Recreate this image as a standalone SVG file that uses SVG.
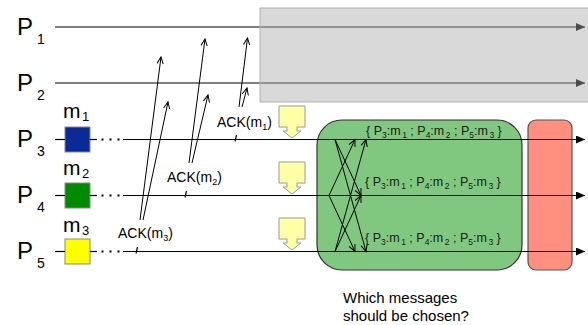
<svg xmlns="http://www.w3.org/2000/svg" width="588" height="325" viewBox="0 0 588 325">
<defs>
<style>
text{font-family:"Liberation Sans",Arial,sans-serif;fill:#000}
.pl{font-size:24px}
.ps{font-size:14px}
.ml{font-size:21px}
.msub{font-size:13px}
.ack{font-size:14px}
.asub{font-size:9px}
.set{font-size:12.5px;fill:#1a1a1a}
.ssub{font-size:8.5px}
.q{font-size:15px}
.pline{stroke:#000;stroke-width:1.2;fill:none}
.arr{stroke:#000;stroke-width:1;fill:none;marker-end:url(#oa)}
.tick{stroke:#000;stroke-width:1.2}
.yel{fill:#ffffa6;stroke:#999;stroke-width:1}
.sq{stroke:#888;stroke-width:1}
</style>
<marker id="fa" markerWidth="10" markerHeight="8" refX="9" refY="4" orient="auto" markerUnits="userSpaceOnUse"><path d="M0,0 L9,4 L0,8 Z" fill="#000"/></marker>
<marker id="oa" markerWidth="10" markerHeight="10" refX="7" refY="5" orient="auto" markerUnits="userSpaceOnUse"><path d="M0,1.8 L7,5 L0,8.2" fill="none" stroke="#000" stroke-width="1"/></marker>
</defs>
<rect width="588" height="325" fill="#fff"/>

<g id="green-box"><rect x="317" y="120" width="205" height="150" rx="25" fill="#80c880" stroke="#333" stroke-width="1.2"/></g>
<g id="red-box"><rect x="528" y="120" width="44" height="150" rx="8" fill="#ff9080" stroke="#555" stroke-width="1.2"/></g>

<g id="labels">
<text class="pl" x="17" y="34.5">P<tspan class="ps" dx="4" dy="9">1</tspan></text>
<text class="pl" x="17" y="90.5">P<tspan class="ps" dx="4" dy="9">2</tspan></text>
<text class="pl" x="17" y="146.5">P<tspan class="ps" dx="4" dy="9">3</tspan></text>
<text class="pl" x="17" y="202.5">P<tspan class="ps" dx="4" dy="9">4</tspan></text>
<text class="pl" x="17" y="258.5">P<tspan class="ps" dx="4" dy="9">5</tspan></text>
</g>

<g id="msg-m1">
<text class="ml" x="63" y="118">m<tspan class="msub" dx="1.5" dy="3">1</tspan></text>
<rect class="sq" x="65" y="127" width="25" height="25" fill="#0a2a96"/>
</g>
<g id="msg-m2">
<text class="ml" x="63" y="175">m<tspan class="msub" dx="1.5" dy="3">2</tspan></text>
<rect class="sq" x="65" y="183" width="25" height="25" fill="#008a00"/>
</g>
<g id="msg-m3">
<text class="ml" x="63" y="232">m<tspan class="msub" dx="1.5" dy="3">3</tspan></text>
<rect class="sq" x="65" y="239" width="25" height="25" fill="#ffff00"/>
</g>

<g id="deliver-markers">
<path class="yel" d="M279,106 H305 V127 H297 V131 H301 L292,138 L283,131 H287 V127 H279 Z"/>
<path class="yel" d="M279,162 H305 V183 H297 V187 H301 L292,194 L283,187 H287 V183 H279 Z"/>
<path class="yel" d="M279,218 H305 V239 H297 V243 H301 L292,250 L283,243 H287 V239 H279 Z"/>
</g>

<g id="connectors">
<line class="pline" x1="55" y1="27" x2="585" y2="27" marker-end="url(#fa)"/>
<line class="pline" x1="55" y1="83" x2="585" y2="83" marker-end="url(#fa)"/>
<line class="pline" x1="55" y1="139.5" x2="65" y2="139.5"/>
<line class="pline" x1="90" y1="139.5" x2="97" y2="139.5"/>
<line class="pline" x1="123" y1="139.5" x2="585" y2="139.5" marker-end="url(#fa)"/>
<line class="pline" x1="55" y1="195.5" x2="65" y2="195.5"/>
<line class="pline" x1="90" y1="195.5" x2="97" y2="195.5"/>
<line class="pline" x1="123" y1="195.5" x2="585" y2="195.5" marker-end="url(#fa)"/>
<line class="pline" x1="55" y1="251.5" x2="65" y2="251.5"/>
<line class="pline" x1="90" y1="251.5" x2="97" y2="251.5"/>
<line class="pline" x1="123" y1="251.5" x2="585" y2="251.5" marker-end="url(#fa)"/>
<g fill="#000">
<rect x="101.5" y="138.5" width="2" height="2"/><rect x="109.5" y="138.5" width="2" height="2"/><rect x="117.5" y="138.5" width="2" height="2"/>
<rect x="101.5" y="194.5" width="2" height="2"/><rect x="109.5" y="194.5" width="2" height="2"/><rect x="117.5" y="194.5" width="2" height="2"/>
<rect x="101.5" y="250.5" width="2" height="2"/><rect x="109.5" y="250.5" width="2" height="2"/><rect x="117.5" y="250.5" width="2" height="2"/>
</g>
<line class="tick" x1="235" y1="141.5" x2="236.5" y2="135"/>
<line class="tick" x1="185" y1="197.5" x2="186.5" y2="191"/>
<line class="tick" x1="136" y1="253.5" x2="137.5" y2="247"/>
<line class="arr" x1="239" y1="107" x2="247.5" y2="38"/>
<line class="arr" x1="242" y1="107" x2="247" y2="88"/>
<line class="arr" x1="189" y1="163" x2="205" y2="39"/>
<line class="arr" x1="192" y1="163" x2="208" y2="95"/>
<line class="arr" x1="140" y1="220" x2="161" y2="57"/>
<line class="arr" x1="143" y1="220" x2="168" y2="102"/>
<line class="arr" x1="329" y1="195.5" x2="355" y2="139.5"/>
<line class="arr" x1="329" y1="195.5" x2="355" y2="251.5"/>
<line class="arr" x1="335" y1="139.5" x2="361" y2="195.5"/>
<line class="arr" x1="335" y1="139.5" x2="366" y2="251.5"/>
<line class="arr" x1="335" y1="251.5" x2="361" y2="195.5"/>
<line class="arr" x1="335" y1="251.5" x2="366" y2="139.5"/>
</g>

<g id="ack-labels">
<text class="ack" x="217" y="127">ACK(m<tspan class="asub" dy="3">1</tspan><tspan dy="-3">)</tspan></text>
<text class="ack" x="167" y="182">ACK(m<tspan class="asub" dy="3">2</tspan><tspan dy="-3">)</tspan></text>
<text class="ack" x="118" y="238">ACK(m<tspan class="asub" dy="3">3</tspan><tspan dy="-3">)</tspan></text>
</g>

<g id="sets">
<text class="set" x="366" y="135">{ P<tspan class="ssub" dy="3">3</tspan><tspan dy="-3">:m</tspan><tspan class="ssub" dx="1.5" dy="3">1</tspan><tspan dy="-3"> ; P</tspan><tspan class="ssub" dy="3">4</tspan><tspan dy="-3">:m</tspan><tspan class="ssub" dx="1.5" dy="3">2</tspan><tspan dy="-3"> ; P</tspan><tspan class="ssub" dy="3">5</tspan><tspan dy="-3">:m</tspan><tspan class="ssub" dx="1.5" dy="3">3</tspan><tspan dy="-3"> }</tspan></text>
<text class="set" x="365" y="186">{ P<tspan class="ssub" dy="3">3</tspan><tspan dy="-3">:m</tspan><tspan class="ssub" dx="1.5" dy="3">1</tspan><tspan dy="-3"> ; P</tspan><tspan class="ssub" dy="3">4</tspan><tspan dy="-3">:m</tspan><tspan class="ssub" dx="1.5" dy="3">2</tspan><tspan dy="-3"> ; P</tspan><tspan class="ssub" dy="3">5</tspan><tspan dy="-3">:m</tspan><tspan class="ssub" dx="1.5" dy="3">3</tspan><tspan dy="-3"> }</tspan></text>
<text class="set" x="365" y="242">{ P<tspan class="ssub" dy="3">3</tspan><tspan dy="-3">:m</tspan><tspan class="ssub" dx="1.5" dy="3">1</tspan><tspan dy="-3"> ; P</tspan><tspan class="ssub" dy="3">4</tspan><tspan dy="-3">:m</tspan><tspan class="ssub" dx="1.5" dy="3">2</tspan><tspan dy="-3"> ; P</tspan><tspan class="ssub" dy="3">5</tspan><tspan dy="-3">:m</tspan><tspan class="ssub" dx="1.5" dy="3">3</tspan><tspan dy="-3"> }</tspan></text>
</g>

<g id="gray-box"><rect x="260" y="8" width="340" height="94" fill="#aaaaaa" fill-opacity="0.45" stroke="#b0b0b0" stroke-width="1"/></g>

<g id="question">
<text class="q" x="343" y="303">Which messages</text>
<text class="q" x="343" y="321">should be chosen?</text>
</g>
</svg>
